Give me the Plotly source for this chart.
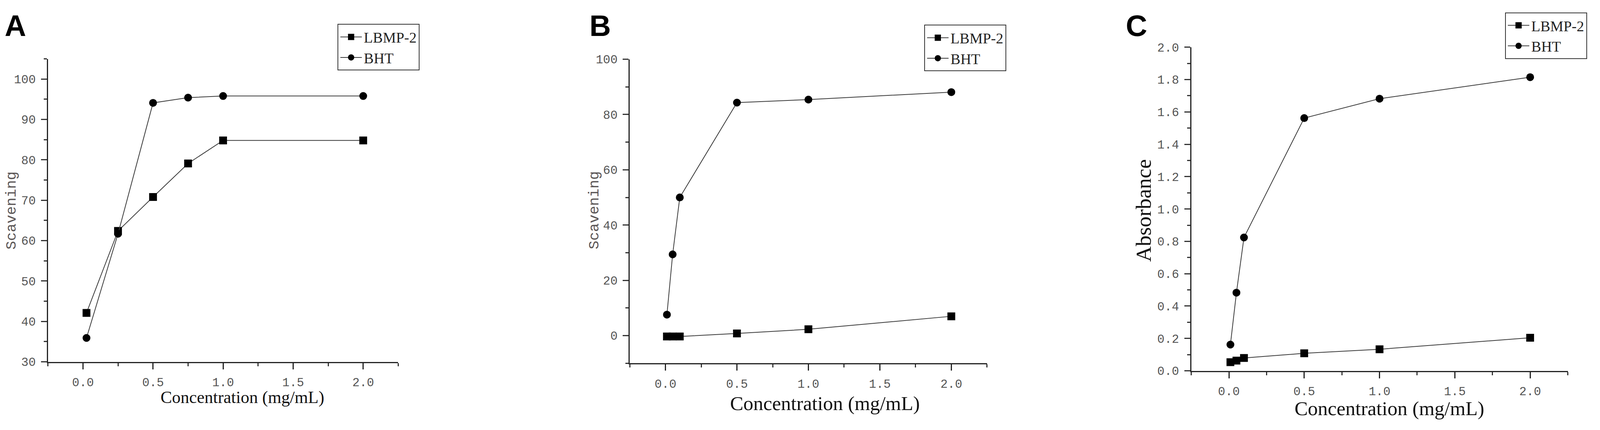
import plotly.graph_objects as go

# concentrations (mg/mL)
concA = [0.025, 0.25, 0.5, 0.75, 1.0, 2.0]
concB = [0.01, 0.05, 0.1, 0.5, 1.0, 2.0]
concC = [0.01, 0.05, 0.1, 0.5, 1.0, 2.0]

# panel A - scavenging
lbmpA = [42.1, 62.4, 70.8, 79.1, 84.8, 84.8]
bhtA = [35.9, 61.7, 94.1, 95.4, 95.8, 95.8]

# panel B - scavenging
lbmpB = [-0.3, -0.3, -0.3, 0.8, 2.3, 7.0]
bhtB = [7.6, 29.4, 50.0, 84.3, 85.4, 88.1]

# panel C - absorbance
lbmpC = [0.053, 0.063, 0.079, 0.108, 0.133, 0.204]
bhtC = [0.162, 0.483, 0.824, 1.562, 1.682, 1.815]

xTicks = [0.0, 0.5, 1.0, 1.5, 2.0]
xTickText = ["0.0", "0.5", "1.0", "1.5", "2.0"]
yTicksA = [30, 40, 50, 60, 70, 80, 90, 100]
yTicksB = [0, 20, 40, 60, 80, 100]
yTicksC = [0.0, 0.2, 0.4, 0.6, 0.8, 1.0, 1.2, 1.4, 1.6, 1.8, 2.0]
yTickTextC = ["0.0", "0.2", "0.4", "0.6", "0.8", "1.0", "1.2", "1.4", "1.6", "1.8", "2.0"]

# positions below are measured on the 4550x1100 reference and kept as fractions;
# the screenshot only shows about 4090px of width, so the figure itself is narrower
RW, RH = 4550, 1100
FIG_W, FIG_H = 4080, 1090

LINE = "#3a3a3a"
TICKFONT = dict(family="Liberation Mono", size=31, color="#555555")


def fx(px):
    return px / RW


def fy(px):
    return 1 - px / RH


fig = go.Figure()

panels = [
    ("", concA, lbmpA, bhtA, "legend"),
    ("2", concB, lbmpB, bhtB, "legend2"),
    ("3", concC, lbmpC, bhtC, "legend3"),
]
for n, xs, lb, bh, lg in panels:
    fig.add_trace(go.Scatter(x=xs, y=lb, name="LBMP-2", mode="lines+markers",
                             xaxis="x" + n, yaxis="y" + n, legend=lg,
                             line=dict(color=LINE, width=2),
                             marker=dict(symbol="square", size=20, color="black")))
    fig.add_trace(go.Scatter(x=xs, y=bh, name="BHT", mode="lines+markers",
                             xaxis="x" + n, yaxis="y" + n, legend=lg,
                             line=dict(color=LINE, width=2),
                             marker=dict(symbol="circle", size=20, color="black")))


def xax(dom, anchor):
    return dict(domain=dom, anchor=anchor, range=[-0.25, 2.25],
                tickmode="array", tickvals=xTicks, ticktext=xTickText,
                showline=True, linecolor="#222", linewidth=3, ticks="outside",
                ticklen=16, tickwidth=3, tickcolor="#222", showgrid=False,
                zeroline=False, tickfont=TICKFONT, ticklabelstandoff=6,
                minor=dict(tick0=0, dtick=0.25, ticks="outside", ticklen=8,
                           tickwidth=3, tickcolor="#333"))


def yax(dom, anchor, rng, vals, text, minor_dt, minor_t0):
    return dict(domain=dom, anchor=anchor, range=rng,
                tickmode="array", tickvals=vals, ticktext=text,
                showline=True, linecolor="#222", linewidth=3, ticks="outside",
                ticklen=15, tickwidth=3, tickcolor="#333", showgrid=False,
                zeroline=False, tickfont=TICKFONT, ticklabelstandoff=7,
                minor=dict(tick0=minor_t0, dtick=minor_dt, ticks="outside",
                           ticklen=8, tickwidth=3, tickcolor="#333"))


legend_style = dict(bgcolor="white", bordercolor="#333", borderwidth=2,
                    font=dict(family="Liberation Serif", size=38, color="#222"),
                    xanchor="left", yanchor="top", tracegroupgap=0,
                    itemwidth=55)

fig.update_layout(
    width=FIG_W, height=FIG_H,
    margin=dict(l=0, r=0, t=0, b=0),
    paper_bgcolor="white", plot_bgcolor="white",
    showlegend=True,
    xaxis=xax([fx(128), fx(1128)], "y"),
    yaxis=yax([fy(941), fy(133)], "x", [30, 105], yTicksA,
              [str(v) for v in yTicksA], 5, 30),
    xaxis2=xax([fx(1789), fx(2809)], "y2"),
    yaxis2=yax([fy(945), fy(134)], "x2", [-10, 100], yTicksB,
               [str(v) for v in yTicksB], 10, -10),
    xaxis3=xax([fx(3392), fx(4467)], "y3"),
    yaxis3=yax([fy(965), fy(102)], "x3", [0, 2.0], yTicksC,
               yTickTextC, 0.1, 0),
    legend=dict(x=fx(955), y=fy(40), **legend_style),
    legend2=dict(x=fx(2630), y=fy(42), **legend_style),
    legend3=dict(x=fx(4288), y=fy(9), **legend_style),
)

# panel letters
for letter, px in [("A", 2), ("B", 1672), ("C", 3203)]:
    fig.add_annotation(text="<b>%s</b>" % letter, xref="paper", yref="paper",
                       x=fx(px), y=fy(44), xanchor="left", yanchor="middle",
                       showarrow=False,
                       font=dict(family="Liberation Sans", size=76, color="black"))

# x-axis titles
for xr, xv, ypx, sz in [("x", 1.137, 1036, 44), ("x2", 1.115, 1052, 51),
                        ("x3", 1.067, 1066, 51)]:
    fig.add_annotation(text="Concentration (mg/mL)", xref=xr, yref="paper",
                       x=xv, y=fy(ypx), xanchor="center", yanchor="middle",
                       showarrow=False,
                       font=dict(family="Liberation Serif", size=sz, color="#111"))

# y-axis titles
for txt, xpx, fam, sz, col in [("Scavening", 25, "Liberation Mono", 37, "#5a5555"),
                               ("Scavening", 1688, "Liberation Mono", 37, "#5a5555"),
                               ("Absorbance", 3255, "Liberation Serif", 55, "#111")]:
    fig.add_annotation(text=txt, xref="paper", yref="paper", x=fx(xpx),
                       y=fy(537), xanchor="center", yanchor="middle",
                       textangle=-90, showarrow=False,
                       font=dict(family=fam, size=sz, color=col))

fig.write_html("out.html")
